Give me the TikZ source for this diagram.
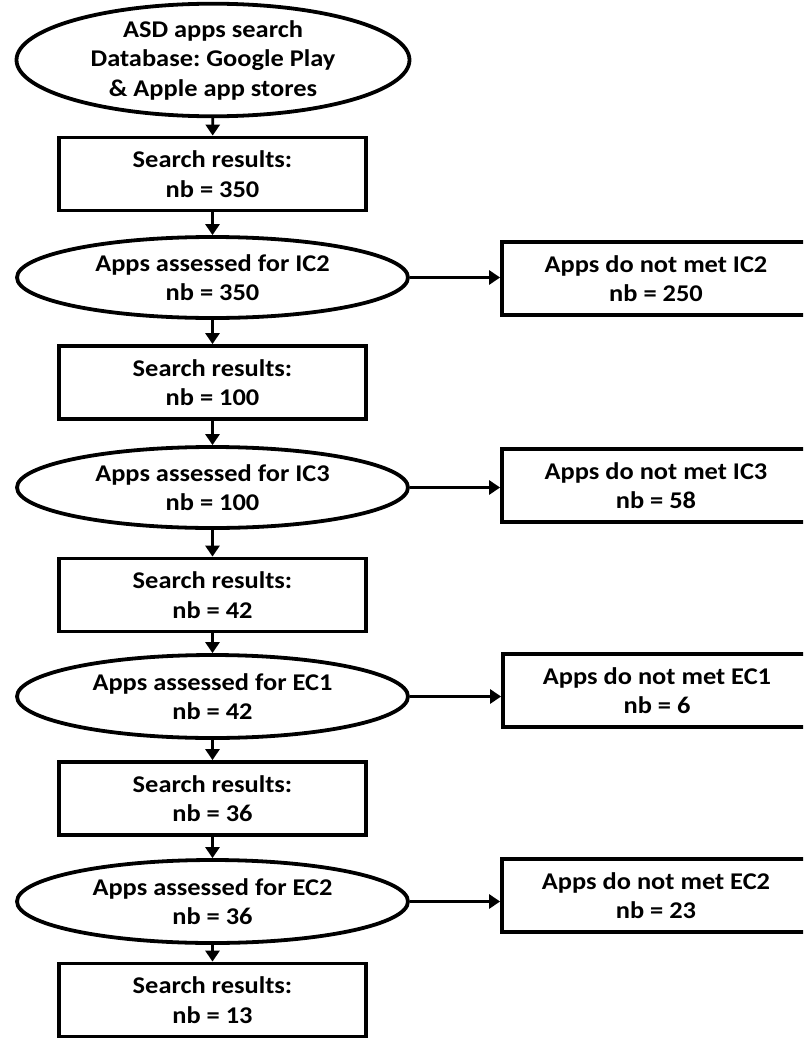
\documentclass[tikz,border=0pt]{standalone}
\usepackage{fontspec}
\setmainfont{Carlito}[FakeStretch=1.1]
\frenchspacing
\usetikzlibrary{shapes.geometric,arrows.meta}
\begin{document}
\begin{tikzpicture}[x=1pt,y=-1pt,
  every node/.style={font=\fontsize{24}{29.5}\selectfont\bfseries, align=center, inner sep=0pt},
  oval/.style={ellipse, draw, line width=3.8pt, minimum width=391pt, minimum height=#1},
  oval/.default=82pt,
  stepbox/.style={rectangle, draw, line width=3.8pt, minimum width=307pt, minimum height=73pt},
  outbox/.style={rectangle, draw, line width=3.8pt, minimum width=308pt, minimum height=73pt},
  arr/.style={line width=2.8pt, -{Triangle[width=14pt,length=11pt]}}]
\useasboundingbox (0,0) rectangle (803,1041);
\fill[white] (0,0) rectangle (803,1041);
\begin{scope}
\clip (0,0) rectangle (803,1041);
% main column
\node[oval=100pt, minimum width=393pt] (e0) at (213,60) {ASD apps search\\Database: Google Play\\\& Apple app stores};
\node[stepbox] (b1) at (212.5,174) {Search results:\\nb = 350};
\node[oval=81pt] (e1) at (212.5,277.5) {Apps assessed for IC2\\nb = 350};
\node[stepbox] (b2) at (212.5,382.5) {Search results:\\nb = 100};
\node[oval=81pt] (e2) at (212.5,487.5) {Apps assessed for IC3\\nb = 100};
\node[stepbox] (b3) at (212.5,595) {Search results:\\nb = 42};
\node[oval=83pt] (e3) at (212.5,696.5) {Apps assessed for EC1\\nb = 42};
\node[stepbox] (b4) at (212.5,798.5) {Search results:\\nb = 36};
\node[oval=83pt] (e4) at (212.5,901.5) {Apps assessed for EC2\\nb = 36};
\node[stepbox] (b5) at (212.5,1000) {Search results:\\nb = 13};
% exclusion boxes
\node[outbox] (r1) at (656,278.5) {Apps do not met IC2\\nb = 250};
\node[outbox] (r2) at (656,485.5) {Apps do not met IC3\\nb = 58};
\node[outbox] (r3) at (657,690.5) {Apps do not met EC1\\nb = 6};
\node[outbox] (r4) at (656,895.5) {Apps do not met EC2\\nb = 23};
% vertical flow
\draw[arr] (e0) -- (b1);
\draw[arr] (b1) -- (e1);
\draw[arr] (e1) -- (b2);
\draw[arr] (b2) -- (e2);
\draw[arr] (e2) -- (b3);
\draw[arr] (b3) -- (e3);
\draw[arr] (e3) -- (b4);
\draw[arr] (b4) -- (e4);
\draw[arr] (e4) -- (b5);
% exclusions
\draw[arr] (e1.east) -- (e1.east -| r1.west);
\draw[arr] (e2.east) -- (e2.east -| r2.west);
\draw[arr] (e3.east) -- (e3.east -| r3.west);
\draw[arr] (e4.east) -- (e4.east -| r4.west);
\end{scope}
\end{tikzpicture}
\end{document}
